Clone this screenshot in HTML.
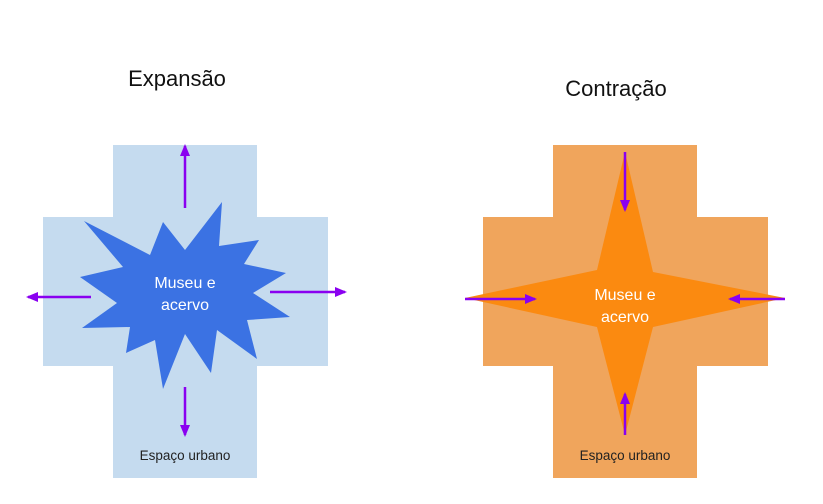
<!DOCTYPE html>
<html><head><style>body{margin:0;background:#fff}svg{display:block}</style></head><body>
<svg width="823" height="504" xmlns="http://www.w3.org/2000/svg" font-family="Liberation Sans, sans-serif">
<defs><marker id="a" markerWidth="12" markerHeight="10" refX="10" refY="5" orient="auto" markerUnits="userSpaceOnUse"><path d="M0,0L12,5L0,10z" fill="#8a00f0"/></marker></defs>
<text x="177" y="86" font-size="22" text-anchor="middle" fill="#111">Expansão</text>
<text x="616" y="96" font-size="22" text-anchor="middle" fill="#111">Contração</text>
<g fill="#c5dbef"><rect x="113" y="145" width="144" height="333"/><rect x="43" y="217" width="285" height="149"/></g>
<polygon fill="#3b72e3" points="84,221 150,255 163,222 185,250 222,202 219,246 259,240 244,264 286,273 253,293 290,317 247,320 257,359 217,330 211,373 185,334 163,389 155,340 126,353 130,327 82,328 117,303 80,277 123,267"/>
<g stroke="#8a00f0" stroke-width="2.5" marker-end="url(#a)"><line x1="185" y1="208" x2="185" y2="146"/><line x1="91" y1="297" x2="28" y2="297"/><line x1="270" y1="292" x2="345" y2="292"/><line x1="185" y1="387" x2="185" y2="435"/></g>
<text x="185" y="288" font-size="16" fill="#fff" text-anchor="middle">Museu e</text>
<text x="185" y="310" font-size="16" fill="#fff" text-anchor="middle">acervo</text>
<text x="185" y="460" font-size="13.5" fill="#222" text-anchor="middle">Espaço urbano</text>
<g fill="#f0a55c"><rect x="553" y="145" width="144" height="333"/><rect x="483" y="217" width="285" height="149"/></g>
<polygon fill="#fb8a10" points="625,152 653,272 785,298 653,327 625,435 597,327 465,298 597,270"/>
<g stroke="#8a00f0" stroke-width="2.5" marker-end="url(#a)"><line x1="625" y1="152" x2="625" y2="210"/><line x1="625" y1="435" x2="625" y2="394"/><line x1="465" y1="299" x2="535" y2="299"/><line x1="785" y1="299" x2="730" y2="299"/></g>
<text x="625" y="300" font-size="16" fill="#fff" text-anchor="middle">Museu e</text>
<text x="625" y="322" font-size="16" fill="#fff" text-anchor="middle">acervo</text>
<text x="625" y="460" font-size="13.5" fill="#222" text-anchor="middle">Espaço urbano</text>
</svg>
</body></html>
